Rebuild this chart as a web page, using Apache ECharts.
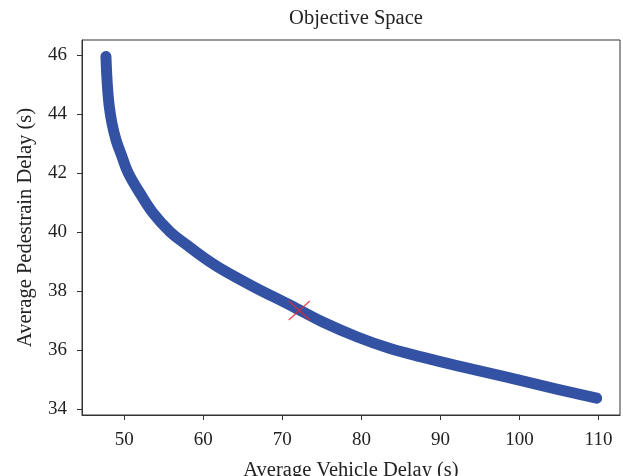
<!DOCTYPE html>
<html>
<head>
<meta charset="utf-8">
<script src="https://cdn.jsdelivr.net/npm/echarts@6/dist/echarts.min.js"></script>
<style>
  html, body { margin: 0; padding: 0; background: #fff; }
  #chart { width: 623px; height: 476px; }
</style>
</head>
<body>
<div id="chart"></div>
<script>
// pareto front (vehicle delay, pedestrian delay)
var vehicleDelay = [47.68, 47.77, 47.90, 48.10, 48.44, 48.95, 49.71, 50.51, 51.99, 53.67, 55.78, 57.90, 60.00, 62.11, 66.32, 70.55, 72.14, 75.18, 79.41, 83.62, 87.83, 92.06, 98.39, 102.60, 106.81, 109.77];
var pedDelay = [45.95, 45.39, 44.82, 44.26, 43.69, 43.13, 42.56, 42.00, 41.32, 40.64, 40.02, 39.57, 39.15, 38.78, 38.16, 37.59, 37.37, 36.95, 36.46, 36.06, 35.76, 35.48, 35.09, 34.82, 34.56, 34.38];
var chosen = [72.14, 37.35];
var xTicks = [50, 60, 70, 80, 90, 100, 110];
var yTicks = [34, 36, 38, 40, 42, 44, 46];

var font = 'Liberation Serif';
var front = [];
for (var i = 0; i < vehicleDelay.length; i++) {
    front.push([vehicleDelay[i], pedDelay[i]]);
}

var chart = echarts.init(document.getElementById('chart'));
chart.setOption({
    animation: false,
    title: {
        text: 'Objective Space',
        left: 351,
        textAlign: 'center',
        top: 3,
        textStyle: { fontFamily: font, fontSize: 20.5, fontWeight: 'normal', color: '#222' }
    },
    grid: {
        left: 82, right: 3, top: 40, bottom: 61,
        outerBoundsMode: 'none',
        containLabel: false,
        show: true, borderColor: '#333', borderWidth: 1
    },
    xAxis: {
        type: 'value',
        min: 44.65,
        max: 112.72,
        name: 'Average Vehicle Delay (s)',
        nameLocation: 'middle',
        nameGap: 45,
        nameTextStyle: { fontFamily: font, fontSize: 20.5, color: '#222' },
        axisLine: { lineStyle: { color: '#333' } },
        axisTick: { customValues: xTicks, length: 5, lineStyle: { color: '#333' } },
        axisLabel: { customValues: xTicks, margin: 16, fontFamily: font, fontSize: 19, color: '#222' },
        splitLine: { show: false }
    },
    yAxis: {
        type: 'value',
        min: 33.81,
        max: 46.51,
        name: 'Average Pedestrain Delay (s)',
        nameLocation: 'middle',
        nameGap: 46,
        nameTextStyle: { fontFamily: font, fontSize: 20.5, color: '#222' },
        axisLine: { show: true, lineStyle: { color: '#333' } },
        axisTick: { show: true, customValues: yTicks, length: 5, lineStyle: { color: '#333' } },
        axisLabel: { customValues: yTicks, margin: 15, fontFamily: font, fontSize: 19, color: '#222' },
        splitLine: { show: false }
    },
    series: [
        {
            type: 'line',
            data: front,
            smooth: 0.4,
            showSymbol: false,
            lineStyle: { color: '#3452a4', width: 11, cap: 'round', join: 'round' },
            z: 2
        },
        {
            type: 'scatter',
            data: [chosen],
            symbol: 'path://M0,0L20,20M20,0L0,20',
            symbolSize: [21, 19],
            itemStyle: { color: 'none', borderColor: '#e8262d', borderWidth: 1.3 },
            z: 5
        }
    ]
});
</script>
</body>
</html>
